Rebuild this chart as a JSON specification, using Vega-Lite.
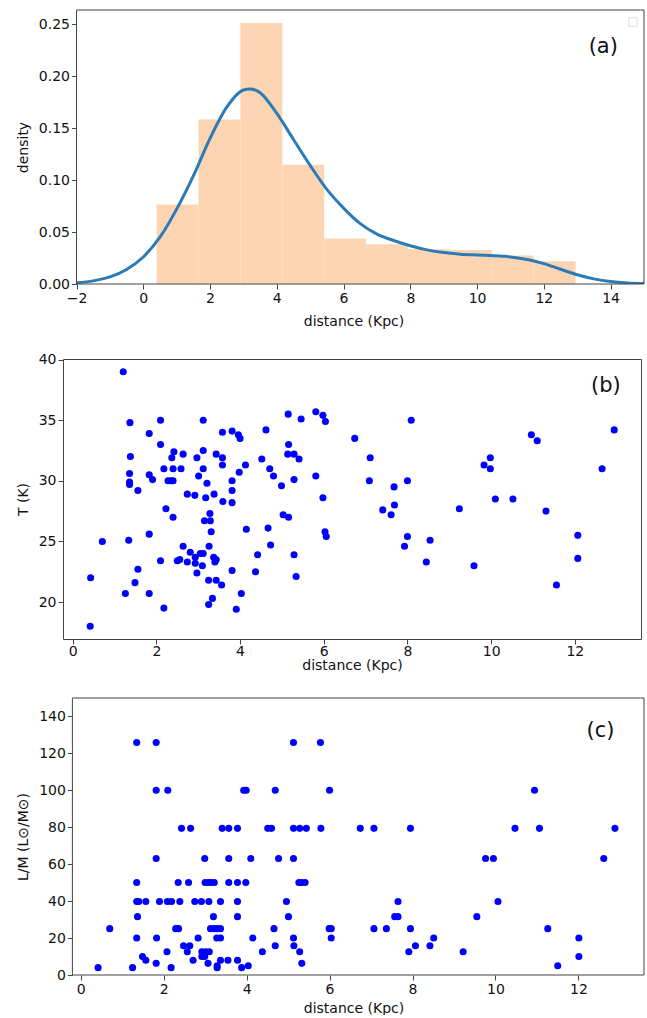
{
  "$schema": "https://vega.github.io/schema/vega-lite/v6.json",
  "padding": {"left": 15, "top": 9, "right": 0, "bottom": 0},
  "spacing": 24,
  "config": {
    "font": "DejaVu Sans",
    "view": {"stroke": "#444", "strokeWidth": 1},
    "axis": {"grid": false, "domain": false, "tickColor": "#444", "tickSize": 5, "tickWidth": 1, "labelOverlap": false, "tickCount": 20,
      "labelFont": "DejaVu Sans", "labelFontSize": 14, "labelColor": "#111", "labelPadding": 2,
      "titleFont": "DejaVu Sans", "titleFontSize": 14, "titleFontWeight": "normal", "titleColor": "#111", "titlePadding": 6,
      "labelExpr": "replace(datum.label, '-', '\u2212')"},
    "axisY": {"titlePadding": 8}
  },
  "datasets": {
    "hist": [
      {"bin_start": 0.4, "bin_end": 1.655, "density": 0.0764},
      {"bin_start": 1.655, "bin_end": 2.91, "density": 0.1583},
      {"bin_start": 2.91, "bin_end": 4.165, "density": 0.2511},
      {"bin_start": 4.165, "bin_end": 5.42, "density": 0.1146},
      {"bin_start": 5.42, "bin_end": 6.675, "density": 0.0437},
      {"bin_start": 6.675, "bin_end": 7.93, "density": 0.0382},
      {"bin_start": 7.93, "bin_end": 9.185, "density": 0.0335},
      {"bin_start": 9.185, "bin_end": 10.44, "density": 0.0327},
      {"bin_start": 10.44, "bin_end": 11.695, "density": 0.0273},
      {"bin_start": 11.695, "bin_end": 12.95, "density": 0.0218}
    ],
    "kde": [
      {"distance": -2, "density": 0.0012}, {"distance": -1.5, "density": 0.003}, {"distance": -1, "density": 0.0068},
      {"distance": -0.5, "density": 0.014}, {"distance": 0, "density": 0.026}, {"distance": 0.5, "density": 0.045},
      {"distance": 1, "density": 0.072}, {"distance": 1.5, "density": 0.104}, {"distance": 2, "density": 0.14},
      {"distance": 2.5, "density": 0.17}, {"distance": 3, "density": 0.1866}, {"distance": 3.2, "density": 0.1876},
      {"distance": 3.5, "density": 0.184}, {"distance": 4, "density": 0.164}, {"distance": 4.5, "density": 0.139},
      {"distance": 5, "density": 0.114}, {"distance": 5.5, "density": 0.091}, {"distance": 6, "density": 0.073},
      {"distance": 6.5, "density": 0.058}, {"distance": 7, "density": 0.048}, {"distance": 7.5, "density": 0.0418},
      {"distance": 8, "density": 0.0368}, {"distance": 8.5, "density": 0.0328}, {"distance": 9, "density": 0.0302},
      {"distance": 9.5, "density": 0.0287}, {"distance": 10, "density": 0.0279}, {"distance": 10.5, "density": 0.0272},
      {"distance": 11, "density": 0.026}, {"distance": 11.5, "density": 0.0236}, {"distance": 12, "density": 0.0196},
      {"distance": 12.5, "density": 0.0142}, {"distance": 13, "density": 0.0089}, {"distance": 13.5, "density": 0.0049},
      {"distance": 14, "density": 0.0023}, {"distance": 14.5, "density": 0.001}, {"distance": 15, "density": 0.0004}
    ],
    "temp": [
      {"d":1.21,"T":39.0},{"d":1.37,"T":34.8},{"d":2.10,"T":35.0},{"d":3.12,"T":35.0},{"d":1.83,"T":33.9},{"d":2.10,"T":33.0},
      {"d":3.58,"T":34.0},{"d":3.81,"T":34.1},{"d":3.96,"T":33.8},{"d":4.0,"T":33.5},{"d":1.38,"T":32.0},{"d":2.42,"T":32.4},
      {"d":2.37,"T":31.9},{"d":2.64,"T":32.2},{"d":2.97,"T":31.9},{"d":3.12,"T":32.5},{"d":3.43,"T":32.2},{"d":3.58,"T":31.9},
      {"d":3.58,"T":31.3},{"d":2.18,"T":31.0},{"d":2.40,"T":31.0},{"d":2.59,"T":31.0},{"d":3.12,"T":31.0},{"d":1.36,"T":30.6},
      {"d":1.83,"T":30.5},{"d":1.91,"T":30.1},{"d":2.28,"T":30.0},{"d":2.35,"T":30.0},{"d":2.40,"T":30.0},{"d":3.01,"T":30.4},
      {"d":1.36,"T":29.9},{"d":1.36,"T":29.7},{"d":3.81,"T":30.0},{"d":3.98,"T":30.7},{"d":4.13,"T":31.3},{"d":1.56,"T":29.2},
      {"d":3.21,"T":29.8},{"d":2.74,"T":28.9},{"d":2.92,"T":28.8},{"d":3.18,"T":28.6},{"d":3.38,"T":28.9},{"d":3.81,"T":29.2},
      {"d":3.59,"T":28.3},{"d":3.81,"T":28.2},{"d":2.23,"T":27.7},{"d":2.40,"T":27.0},{"d":3.28,"T":27.3},{"d":3.15,"T":26.7},
      {"d":3.29,"T":26.7},{"d":3.31,"T":25.8},{"d":0.71,"T":25.0},{"d":1.34,"T":25.1},{"d":1.83,"T":25.6},{"d":2.64,"T":24.6},
      {"d":3.26,"T":24.6},{"d":2.81,"T":24.1},{"d":2.93,"T":23.7},{"d":3.05,"T":24.0},{"d":3.12,"T":24.0},{"d":2.10,"T":23.4},
      {"d":2.50,"T":23.4},{"d":2.56,"T":23.5},{"d":2.74,"T":23.3},{"d":2.93,"T":23.2},{"d":3.10,"T":23.0},{"d":3.37,"T":23.7},
      {"d":3.40,"T":23.3},{"d":3.43,"T":23.5},{"d":2.97,"T":22.4},{"d":1.56,"T":22.7},{"d":0.43,"T":22.0},{"d":1.49,"T":21.6},
      {"d":3.25,"T":21.8},{"d":3.43,"T":21.8},{"d":3.56,"T":21.4},{"d":3.81,"T":22.6},{"d":1.26,"T":20.7},{"d":1.83,"T":20.7},
      {"d":3.34,"T":20.3},{"d":3.25,"T":19.8},{"d":2.18,"T":19.5},{"d":3.91,"T":19.4},{"d":4.03,"T":20.7},{"d":0.42,"T":18.0},
      {"d":4.15,"T":26.0},{"d":4.37,"T":22.5},{"d":4.42,"T":23.9},{"d":4.67,"T":26.1},{"d":4.73,"T":24.7},{"d":4.52,"T":31.8},
      {"d":4.62,"T":34.2},{"d":4.71,"T":31.0},{"d":4.80,"T":30.4},{"d":4.99,"T":29.6},{"d":5.03,"T":27.2},{"d":5.16,"T":27.0},
      {"d":5.15,"T":35.5},{"d":5.16,"T":33.0},{"d":5.14,"T":32.2},{"d":5.29,"T":32.2},{"d":5.41,"T":31.8},{"d":5.29,"T":30.1},
      {"d":5.29,"T":23.9},{"d":5.34,"T":22.1},{"d":5.46,"T":35.1},{"d":5.81,"T":35.7},{"d":5.98,"T":35.4},{"d":6.04,"T":34.9},
      {"d":5.81,"T":30.4},{"d":5.98,"T":28.6},{"d":6.03,"T":25.8},{"d":6.06,"T":25.4},{"d":6.74,"T":33.5},{"d":8.09,"T":35.0},
      {"d":7.11,"T":31.9},{"d":7.09,"T":30.0},{"d":7.68,"T":29.5},{"d":8.00,"T":30.0},{"d":7.41,"T":27.6},{"d":7.69,"T":28.0},
      {"d":7.61,"T":27.2},{"d":9.24,"T":27.7},{"d":8.00,"T":25.4},{"d":7.93,"T":24.6},{"d":8.54,"T":25.1},{"d":8.45,"T":23.3},
      {"d":9.59,"T":23.0},{"d":9.83,"T":31.3},{"d":9.98,"T":31.9},{"d":9.98,"T":31.0},{"d":10.10,"T":28.5},{"d":10.52,"T":28.5},
      {"d":10.96,"T":33.8},{"d":11.10,"T":33.3},{"d":11.31,"T":27.5},{"d":12.07,"T":25.5},{"d":12.07,"T":23.6},{"d":11.56,"T":21.4},
      {"d":12.65,"T":31.0},{"d":12.94,"T":34.2}
    ],
    "lm": [
      {"d":1.35,"lm":125.9},{"d":1.82,"lm":125.9},{"d":5.13,"lm":125.9},{"d":5.78,"lm":125.9},
      {"d":1.82,"lm":100},{"d":2.10,"lm":100},{"d":3.93,"lm":100},{"d":3.99,"lm":100},{"d":4.69,"lm":100},{"d":6.00,"lm":100},{"d":10.94,"lm":100},
      {"d":2.43,"lm":79.4},{"d":2.65,"lm":79.4},{"d":3.41,"lm":79.4},{"d":3.57,"lm":79.4},{"d":3.78,"lm":79.4},{"d":4.51,"lm":79.4},
      {"d":4.60,"lm":79.4},{"d":5.13,"lm":79.4},{"d":5.28,"lm":79.4},{"d":5.44,"lm":79.4},{"d":5.79,"lm":79.4},{"d":6.74,"lm":79.4},
      {"d":7.07,"lm":79.4},{"d":7.95,"lm":79.4},{"d":10.47,"lm":79.4},{"d":11.06,"lm":79.4},{"d":12.88,"lm":79.4},
      {"d":1.82,"lm":63.1},{"d":2.99,"lm":63.1},{"d":3.57,"lm":63.1},{"d":4.10,"lm":63.1},{"d":4.77,"lm":63.1},{"d":5.13,"lm":63.1},
      {"d":9.76,"lm":63.1},{"d":9.95,"lm":63.1},{"d":12.61,"lm":63.1},
      {"d":1.35,"lm":50.1},{"d":2.35,"lm":50.1},{"d":2.60,"lm":50.1},{"d":3.00,"lm":50.1},{"d":3.08,"lm":50.1},{"d":3.15,"lm":50.1},
      {"d":3.22,"lm":50.1},{"d":3.57,"lm":50.1},{"d":3.78,"lm":50.1},{"d":3.98,"lm":50.1},{"d":5.26,"lm":50.1},{"d":5.33,"lm":50.1},{"d":5.41,"lm":50.1},
      {"d":1.35,"lm":39.8},{"d":1.40,"lm":39.8},{"d":1.57,"lm":39.8},{"d":1.90,"lm":39.8},{"d":2.09,"lm":39.8},{"d":2.19,"lm":39.8},
      {"d":2.39,"lm":39.8},{"d":2.75,"lm":39.8},{"d":2.91,"lm":39.8},{"d":3.09,"lm":39.8},{"d":3.37,"lm":39.8},{"d":3.78,"lm":39.8},
      {"d":4.96,"lm":39.8},{"d":7.65,"lm":39.8},{"d":10.06,"lm":39.8},
      {"d":1.37,"lm":31.6},{"d":3.20,"lm":31.6},{"d":3.78,"lm":31.6},{"d":5.01,"lm":31.6},{"d":7.57,"lm":31.6},{"d":7.65,"lm":31.6},{"d":9.55,"lm":31.6},
      {"d":0.70,"lm":25.1},{"d":2.29,"lm":25.1},{"d":2.36,"lm":25.1},{"d":3.13,"lm":25.1},{"d":3.21,"lm":25.1},{"d":3.29,"lm":25.1},
      {"d":3.37,"lm":25.1},{"d":4.66,"lm":25.1},{"d":5.99,"lm":25.1},{"d":6.04,"lm":25.1},{"d":7.07,"lm":25.1},{"d":7.37,"lm":25.1},
      {"d":7.95,"lm":25.1},{"d":11.26,"lm":25.1},
      {"d":1.35,"lm":20},{"d":1.83,"lm":20},{"d":2.83,"lm":20},{"d":3.28,"lm":20},{"d":3.37,"lm":20},{"d":4.15,"lm":20},
      {"d":5.13,"lm":20},{"d":6.04,"lm":20},{"d":8.51,"lm":20},{"d":12.01,"lm":20},
      {"d":2.48,"lm":15.8},{"d":2.63,"lm":15.8},{"d":4.69,"lm":15.8},{"d":5.14,"lm":15.8},{"d":8.07,"lm":15.8},{"d":8.42,"lm":15.8},
      {"d":2.08,"lm":12.6},{"d":2.57,"lm":12.6},{"d":2.92,"lm":12.6},{"d":3.01,"lm":12.6},{"d":3.10,"lm":12.6},{"d":4.38,"lm":12.6},
      {"d":5.28,"lm":12.6},{"d":7.91,"lm":12.6},{"d":9.22,"lm":12.6},
      {"d":1.49,"lm":10},{"d":2.92,"lm":10},{"d":2.99,"lm":10},{"d":12.01,"lm":10},
      {"d":1.57,"lm":7.94},{"d":2.71,"lm":7.94},{"d":3.37,"lm":7.94},{"d":3.55,"lm":7.94},{"d":3.78,"lm":7.94},
      {"d":1.82,"lm":6.31},{"d":3.07,"lm":6.31},{"d":5.33,"lm":6.31},
      {"d":3.29,"lm":5.01},{"d":4.04,"lm":5.01},{"d":11.50,"lm":5.01},
      {"d":0.42,"lm":3.98},{"d":1.25,"lm":3.98},{"d":2.18,"lm":3.98},{"d":3.29,"lm":3.98},{"d":3.88,"lm":3.98}
    ]
  },
  "vconcat": [
    {
      "width": 581, "height": 274,
      "view": {"stroke": null},
      "layer": [
        {
          "data": {"name": "hist"},
          "mark": {"type": "rect", "color": "#fdd5b2"},
          "encoding": {
            "x": {"field": "bin_start", "type": "quantitative",
              "scale": {"domain": [-2.405, 15], "nice": false, "zero": false},
              "axis": {"values": [-2, 0, 2, 4, 6, 8, 10, 12, 14], "format": "d", "title": "distance (Kpc)", "titlePadding": 9}},
            "x2": {"field": "bin_end"},
            "y": {"field": "density", "type": "quantitative",
              "scale": {"domain": [0, 0.2635], "nice": false},
              "axis": {"values": [0, 0.05, 0.1, 0.15, 0.2, 0.25], "format": ".2f", "title": "density", "offset": -13.5}},
            "y2": {"datum": 0}
          }
        },
        {
          "data": {"name": "kde"},
          "mark": {"type": "line", "color": "#2a7bb8", "strokeWidth": 3, "interpolate": "monotone", "clip": true},
          "encoding": {
            "x": {"field": "distance", "type": "quantitative"},
            "y": {"field": "density", "type": "quantitative"}
          }
        },
        {
          "data": {"values": [{}]},
          "mark": {"type": "rect", "filled": false, "fill": null, "stroke": "#444", "strokeWidth": 1},
          "encoding": {"x": {"datum": -2}, "x2": {"datum": 15}, "y": {"datum": 0}, "y2": {"datum": 0.2635}}
        },
        {
          "data": {"values": [{}]},
          "mark": {"type": "text", "fontSize": 21, "font": "DejaVu Sans", "color": "#111"},
          "encoding": {"x": {"datum": 13.78}, "y": {"datum": 0.2276}, "text": {"value": "(a)"}}
        },
        {
          "data": {"values": [{}]},
          "mark": {"type": "square", "size": 70, "filled": true, "fill": "white", "stroke": "#d0d0d0", "strokeWidth": 1},
          "encoding": {"x": {"datum": 14.67}, "y": {"datum": 0.252}}
        }
      ]
    },
    {
      "width": 578, "height": 280,
      "layer": [
        {
          "data": {"name": "temp"},
          "mark": {"type": "circle", "size": 50, "color": "#0000ff", "opacity": 1},
          "encoding": {
            "x": {"field": "d", "type": "quantitative",
              "scale": {"domain": [-0.23, 13.58], "nice": false, "zero": false},
              "axis": {"values": [0, 2, 4, 6, 8, 10, 12], "format": "d", "title": "distance (Kpc)", "labelPadding": 0, "titlePadding": 0}},
            "y": {"field": "T", "type": "quantitative",
              "scale": {"domain": [16.95, 40.05], "nice": false, "zero": false},
              "axis": {"values": [20, 25, 30, 35, 40], "format": "d", "title": "T (K)"}}
          }
        },
        {
          "data": {"values": [{}]},
          "mark": {"type": "text", "fontSize": 21, "font": "DejaVu Sans", "color": "#111"},
          "encoding": {"x": {"datum": 12.74}, "y": {"datum": 37.83}, "text": {"value": "(b)"}}
        }
      ]
    },
    {
      "width": 581, "height": 277,
      "view": {"stroke": null},
      "layer": [
        {
          "data": {"name": "lm"},
          "mark": {"type": "circle", "size": 50, "color": "#0000ff", "opacity": 1},
          "encoding": {
            "x": {"field": "d", "type": "quantitative",
              "scale": {"domain": [-0.4265, 13.58], "nice": false, "zero": false},
              "axis": {"values": [0, 2, 4, 6, 8, 10, 12], "format": "d", "title": "distance (Kpc)", "titlePadding": 5}},
            "y": {"field": "lm", "type": "quantitative",
              "scale": {"domain": [0, 150], "nice": false},
              "axis": {"values": [0, 20, 40, 60, 80, 100, 120, 140], "tickCount": 20, "format": "d", "labelOverlap": false, "offset": -9.4, "title": "L/M (L\u2299/M\u2299)"}}
          }
        },
        {
          "data": {"values": [{}]},
          "mark": {"type": "rect", "filled": false, "fill": null, "stroke": "#444", "strokeWidth": 1},
          "encoding": {"x": {"datum": -0.2}, "x2": {"datum": 13.58}, "y": {"datum": 0}, "y2": {"datum": 150}}
        },
        {
          "data": {"values": [{}]},
          "mark": {"type": "text", "fontSize": 21, "font": "DejaVu Sans", "color": "#111"},
          "encoding": {"x": {"datum": 12.53}, "y": {"datum": 131.9}, "text": {"value": "(c)"}}
        }
      ]
    }
  ]
}
